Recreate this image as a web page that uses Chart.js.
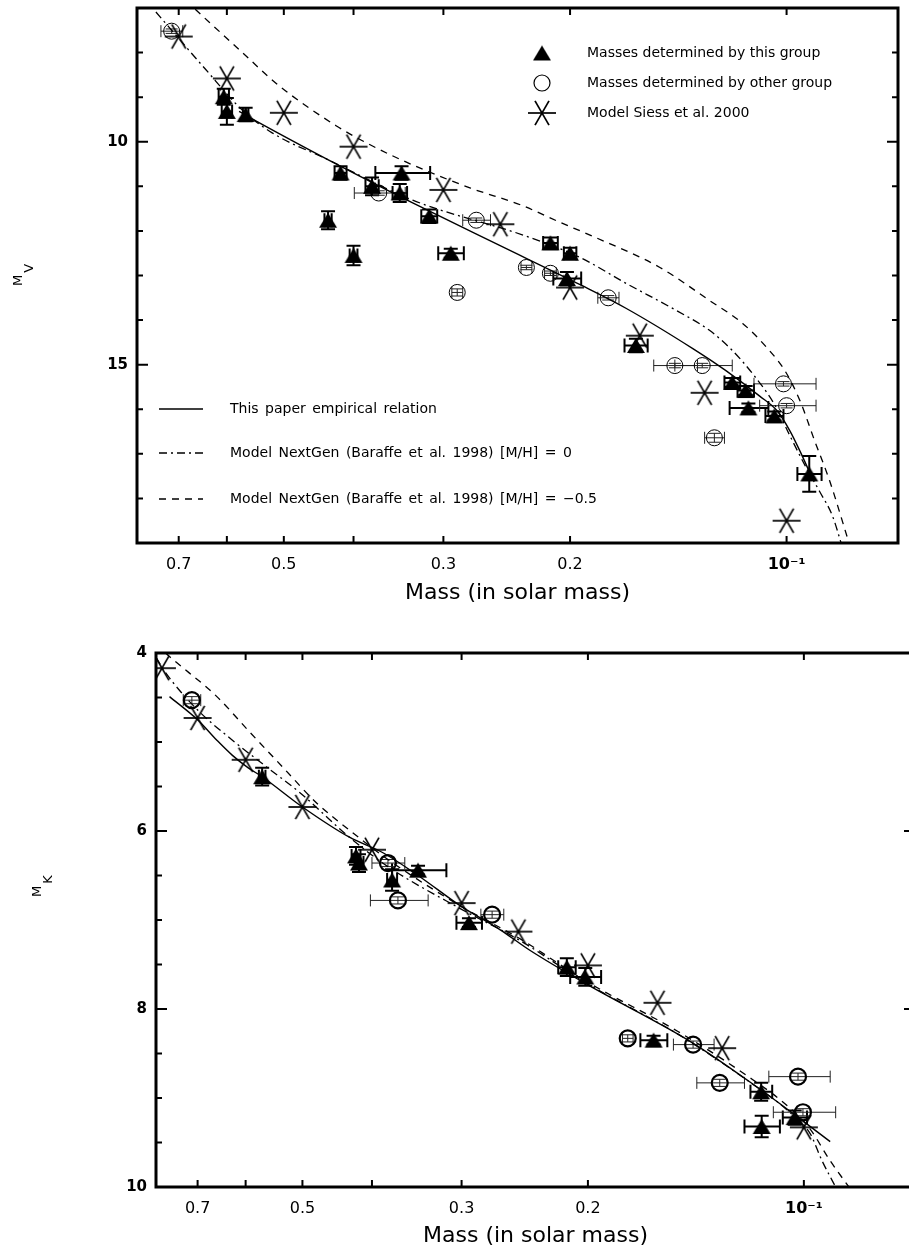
<!DOCTYPE html>
<html>
<head>
<meta charset="utf-8">
<title>Mass - luminosity relation</title>
<script src="https://cdn.jsdelivr.net/npm/chart.js@4.4.1/dist/chart.umd.min.js"></script>
<style>
  html, body { margin: 0; padding: 0; background: #fff; overflow: hidden; }
  canvas { position: absolute; left: 0; }
  #chartV { top: 0; }
  #chartK { top: 610px; }
</style>
</head>
<body>
<canvas id="chartV" width="909" height="610"></canvas>
<canvas id="chartK" width="926" height="643"></canvas>
<script>
// mass axis, shared by both panels
const massTicks = [0.7, 0.6, 0.5, 0.4, 0.3, 0.2, 0.1];
const massTickLabels = ['0.7', '', '0.5', '', '0.3', '0.2', '10⁻¹'];

// ---------- top panel : M_V ----------
const vTickLabels = [10, 15];
const vMinorTicks = [7, 8, 9, 11, 12, 13, 14, 16, 17, 18];

// masses determined by this group
const vThisMass    = [0.606, 0.600, 0.565, 0.417, 0.377, 0.343, 0.345, 0.314, 0.434, 0.400, 0.293, 0.213, 0.200, 0.202, 0.162, 0.119, 0.114, 0.113, 0.104, 0.093];
const vThisMag     = [8.99, 9.32, 9.39, 10.70, 11.00, 10.70, 11.15, 11.67, 11.76, 12.55, 12.50, 12.27, 12.50, 13.07, 14.57, 15.40, 15.58, 15.97, 16.15, 17.45];
const vThisMassErr = [0.010, 0.010, 0.005, 0.008, 0.008, 0.030, 0.008, 0.008, 0.005, 0.005, 0.012, 0.005, 0.004, 0.009, 0.006, 0.003, 0.003, 0.007, 0.003, 0.0036];
const vThisMagErr  = [0.18, 0.30, 0.15, 0.15, 0.20, 0.15, 0.20, 0.15, 0.20, 0.22, 0.10, 0.12, 0.12, 0.15, 0.15, 0.10, 0.10, 0.10, 0.10, 0.40];

// masses determined by other groups
const vOtherMass    = [0.716, 0.369, 0.270, 0.287, 0.230, 0.213, 0.177, 0.143, 0.131, 0.126, 0.101, 0.100];
const vOtherMag     = [7.52, 11.15, 11.76, 13.38, 12.82, 12.95, 13.50, 15.02, 15.02, 16.64, 15.43, 15.92];
const vOtherMassErr = [0.025, 0.030, 0.012, 0.005, 0.004, 0.004, 0.006, 0.010, 0.012, 0.004, 0.010, 0.009];
const vOtherMagErr  = [0.05, 0.05, 0.05, 0.08, 0.05, 0.05, 0.05, 0.05, 0.05, 0.10, 0.05, 0.05];

// Siess et al. 2000 models
const vSiessMass = [0.70, 0.60, 0.50, 0.40, 0.30, 0.25, 0.20, 0.16, 0.13, 0.10];
const vSiessMag  = [7.64, 8.58, 9.35, 10.11, 11.08, 11.85, 13.27, 14.35, 15.63, 18.50];

// curves
const vEmpMass = [0.577, 0.547, 0.433, 0.331, 0.251, 0.194, 0.167, 0.135, 0.1213, 0.1091, 0.103, 0.0989, 0.0958, 0.0928];
const vEmpMag  = [9.32, 9.53, 10.41, 11.37, 12.32, 13.20, 13.74, 14.64, 15.14, 15.70, 16.04, 16.49, 16.94, 17.43];
const vNg0Mass = [0.753, 0.642, 0.572, 0.519, 0.433, 0.331, 0.228, 0.194, 0.167, 0.1425, 0.128, 0.119, 0.1109, 0.1037, 0.0989, 0.0942, 0.0900, 0.0863, 0.0838];
const vNg0Mag  = [7.09, 8.38, 9.28, 9.80, 10.41, 11.31, 12.14, 12.59, 13.18, 13.78, 14.23, 14.68, 15.25, 15.92, 16.60, 17.27, 17.84, 18.40, 19.05];
const vNg5Mass = [0.664, 0.577, 0.508, 0.423, 0.377, 0.331, 0.275, 0.234, 0.207, 0.186, 0.150, 0.128, 0.115, 0.1065, 0.1005, 0.0958, 0.0914, 0.0871, 0.0817];
const vNg5Mag  = [7.03, 7.93, 8.74, 9.64, 10.09, 10.52, 11.04, 11.42, 11.80, 12.12, 12.82, 13.56, 14.08, 14.62, 15.14, 15.81, 16.71, 17.61, 19.05];

// ---------- bottom panel : M_K ----------
const kTickLabels = [4, 6, 8, 10];
const kMinorTicks = [4.5, 5, 5.5, 6.5, 7, 7.5, 8.5, 9, 9.5];

const kThisMass    = [0.569, 0.421, 0.417, 0.345, 0.375, 0.293, 0.214, 0.2017, 0.162, 0.1147, 0.103, 0.1145];
const kThisMag     = [5.39, 6.28, 6.36, 6.44, 6.55, 7.03, 7.53, 7.64, 8.35, 8.93, 9.22, 9.32];
const kThisMassErr = [0.006, 0.006, 0.006, 0.030, 0.006, 0.012, 0.006, 0.010, 0.007, 0.004, 0.004, 0.0065];
const kThisMagErr  = [0.10, 0.10, 0.10, 0.05, 0.12, 0.05, 0.10, 0.10, 0.05, 0.10, 0.08, 0.12];

const kOtherMass    = [0.713, 0.380, 0.368, 0.272, 0.176, 0.1427, 0.131, 0.1019, 0.1003];
const kOtherMag     = [4.53, 6.36, 6.78, 6.94, 8.33, 8.40, 8.83, 8.76, 9.16];
const kOtherMassErr = [0.020, 0.020, 0.034, 0.010, 0.003, 0.0093, 0.010, 0.010, 0.010];
const kOtherMagErr  = [0.04, 0.04, 0.04, 0.04, 0.04, 0.04, 0.04, 0.04, 0.04];

const kSiessMass = [0.785, 0.70, 0.60, 0.50, 0.40, 0.30, 0.25, 0.20, 0.16, 0.13, 0.10];
const kSiessMag  = [4.17, 4.73, 5.20, 5.73, 6.21, 6.81, 7.13, 7.51, 7.93, 8.44, 9.33];

const kEmpMass = [0.766, 0.70, 0.658, 0.626, 0.595, 0.569, 0.50, 0.43, 0.385, 0.345, 0.30, 0.265, 0.241, 0.20, 0.143, 0.1147, 0.1037, 0.0919];
const kEmpMag  = [4.49, 4.75, 4.98, 5.15, 5.29, 5.39, 5.73, 6.07, 6.25, 6.50, 6.85, 7.11, 7.34, 7.73, 8.38, 8.91, 9.17, 9.49];
const kNg0Mass = [0.80, 0.776, 0.70, 0.626, 0.561, 0.504, 0.43, 0.38, 0.30, 0.25, 0.20, 0.15, 0.12, 0.105, 0.098, 0.0944, 0.0899];
const kNg0Mag  = [4.05, 4.22, 4.64, 4.98, 5.28, 5.57, 6.07, 6.40, 6.88, 7.22, 7.72, 8.28, 8.80, 9.15, 9.40, 9.70, 10.03];
const kNg5Mass = [0.80, 0.766, 0.658, 0.595, 0.533, 0.477, 0.43, 0.38, 0.30, 0.25, 0.20, 0.15, 0.12, 0.105, 0.098, 0.092, 0.086];
const kNg5Mag  = [3.90, 4.04, 4.49, 4.87, 5.28, 5.69, 5.99, 6.32, 6.85, 7.20, 7.70, 8.25, 8.75, 9.10, 9.35, 9.70, 10.03];

Chart.defaults.font.family = "'DejaVu Sans', sans-serif";
Chart.defaults.color = '#000';

const pts = (xs, ys) => xs.map((m, i) => ({ x: m, y: ys[i] }));

// marker glyphs
function triangleImg(w, h) {
    const c = document.createElement('canvas');
    c.width = w + 2; c.height = h + 2;
    const g = c.getContext('2d');
    g.fillStyle = '#000';
    g.beginPath();
    g.moveTo(c.width / 2, 1);
    g.lineTo(w + 1, h + 1);
    g.lineTo(1, h + 1);
    g.closePath();
    g.fill();
    return c;
}
function asteriskImg(r, lw) {
    const s = 2 * r + 4;
    const c = document.createElement('canvas');
    c.width = s; c.height = s;
    const g = c.getContext('2d');
    g.strokeStyle = '#000';
    g.lineWidth = lw;
    g.translate(s / 2, s / 2);
    [0, 60, 120].forEach(a => {
        const t = a * Math.PI / 180;
        g.beginPath();
        g.moveTo(-r * Math.cos(t), -r * Math.sin(t));
        g.lineTo(r * Math.cos(t), r * Math.sin(t));
        g.stroke();
    });
    return c;
}
const triMark = triangleImg(18, 15);
const starMark = asteriskImg(14, 1.7);

// error bars, drawn through the scales
const errorBars = {
    id: 'errorBars',
    beforeDatasetsDraw(chart) {
        const { ctx, chartArea: a, scales: { x, y } } = chart;
        ctx.save();
        ctx.beginPath();
        ctx.rect(a.left, a.top, a.right - a.left, a.bottom - a.top);
        ctx.clip();
        chart.data.datasets.forEach(ds => {
            if (!ds.errX && !ds.errY) return;
            ctx.strokeStyle = ds.errColor || '#000';
            ctx.lineWidth = ds.errWidth || 1;
            const cap = ds.errCap || 6;
            ds.data.forEach((p, j) => {
                const px = x.getPixelForValue(p.x);
                const py = y.getPixelForValue(p.y);
                ctx.beginPath();
                if (ds.errX && ds.errX[j]) {
                    const x1 = x.getPixelForValue(p.x + ds.errX[j]);
                    const x2 = x.getPixelForValue(p.x - ds.errX[j]);
                    ctx.moveTo(x1, py); ctx.lineTo(x2, py);
                    ctx.moveTo(x1, py - cap); ctx.lineTo(x1, py + cap);
                    ctx.moveTo(x2, py - cap); ctx.lineTo(x2, py + cap);
                }
                if (ds.errY && ds.errY[j]) {
                    const y1 = y.getPixelForValue(p.y - ds.errY[j]);
                    const y2 = y.getPixelForValue(p.y + ds.errY[j]);
                    ctx.moveTo(px, y1); ctx.lineTo(px, y2);
                    ctx.moveTo(px - cap, y1); ctx.lineTo(px + cap, y1);
                    ctx.moveTo(px - cap, y2); ctx.lineTo(px + cap, y2);
                }
                ctx.stroke();
            });
        });
        ctx.restore();
    }
};

// box with inward ticks on all four sides
const frameTicks = {
    id: 'frameTicks',
    afterDraw(chart, args, o) {
        const { ctx, chartArea: a, scales: { x, y } } = chart;
        ctx.save();
        ctx.strokeStyle = '#000';
        ctx.lineWidth = 2;
        ctx.beginPath();
        massTicks.forEach(v => {
            const px = x.getPixelForValue(v);
            ctx.moveTo(px, a.bottom); ctx.lineTo(px, a.bottom - 7);
            ctx.moveTo(px, a.top); ctx.lineTo(px, a.top + 7);
        });
        o.major.forEach(v => {
            const py = y.getPixelForValue(v);
            ctx.moveTo(a.left, py); ctx.lineTo(a.left + 11, py);
            ctx.moveTo(a.right, py); ctx.lineTo(a.right - 11, py);
        });
        o.minor.forEach(v => {
            const py = y.getPixelForValue(v);
            ctx.moveTo(a.left, py); ctx.lineTo(a.left + 6, py);
            ctx.moveTo(a.right, py); ctx.lineTo(a.right - 6, py);
        });
        ctx.stroke();
        ctx.lineWidth = 3;
        ctx.strokeRect(a.left, a.top, a.right - a.left, a.bottom - a.top);

        // y axis title with subscript, rotated
        ctx.fillStyle = '#000';
        ctx.translate(o.title.x, o.title.y);
        ctx.rotate(-Math.PI / 2);
        ctx.textAlign = 'left';
        ctx.textBaseline = 'alphabetic';
        ctx.font = "13px 'DejaVu Sans'";
        const w = ctx.measureText('M').width;
        ctx.fillText('M', 0, 0);
        ctx.fillText(o.title.sub, w + 2, 11);
        ctx.restore();
    }
};

// legend placed inside the plot, labels taken from the datasets
const insideLegend = {
    id: 'insideLegend',
    afterDraw(chart, args, o) {
        if (!o.points) return;
        const ctx = chart.ctx;
        const sets = chart.data.datasets;
        ctx.save();
        ctx.fillStyle = '#000';
        ctx.strokeStyle = '#000';
        ctx.font = "14px 'DejaVu Sans'";
        ctx.textBaseline = 'middle';
        o.points.forEach(p => {
            const ds = sets[p.ds];
            const st = ds.pointStyle;
            if (st instanceof HTMLCanvasElement) {
                ctx.drawImage(st, p.x - st.width / 2, p.y - st.height / 2);
            } else {
                ctx.lineWidth = 1.2;
                ctx.beginPath();
                ctx.arc(p.x, p.y, ds.pointRadius, 0, Math.PI * 2);
                ctx.stroke();
            }
            ctx.fillText(ds.label, o.textX, p.y);
        });
        ctx.wordSpacing = '2px';
        o.lines.forEach(l => {
            const ds = sets[l.ds];
            ctx.lineWidth = ds.borderWidth;
            ctx.setLineDash(ds.borderDash || []);
            ctx.beginPath();
            ctx.moveTo(o.lineX0, l.y); ctx.lineTo(o.lineX1, l.y);
            ctx.stroke();
            ctx.setLineDash([]);
            ctx.fillText(ds.label, o.lineTextX, l.y);
        });
        ctx.restore();
    }
};

function makeSets(d) {
    return [
        { label: 'Masses determined by this group', data: pts(d.thisMass, d.thisMag),
          errX: d.thisMassErr, errY: d.thisMagErr, errWidth: 2, errCap: 7,
          pointStyle: triMark, pointRadius: 8 },
        { label: 'Masses determined by other group', data: pts(d.otherMass, d.otherMag),
          errX: d.otherMassErr, errY: d.otherMagErr, errWidth: 1, errCap: 6, errColor: '#222',
          pointStyle: 'circle', pointRadius: 8, borderColor: '#000', borderWidth: d.circleWidth,
          backgroundColor: 'rgba(0,0,0,0)' },
        { label: 'Model Siess et al. 2000', data: pts(d.siessMass, d.siessMag),
          pointStyle: starMark, pointRadius: 14 },
        { label: 'This paper empirical relation', data: pts(d.empMass, d.empMag), showLine: true,
          pointRadius: 0, borderColor: '#000', borderWidth: 1.4, cubicInterpolationMode: 'monotone' },
        { label: 'Model NextGen (Baraffe et al. 1998) [M/H] = 0', data: pts(d.ng0Mass, d.ng0Mag), showLine: true,
          pointRadius: 0, borderColor: '#000', borderWidth: 1.3, borderDash: [8, 4, 2, 4], cubicInterpolationMode: 'monotone' },
        { label: 'Model NextGen (Baraffe et al. 1998) [M/H] = −0.5', data: pts(d.ng5Mass, d.ng5Mag), showLine: true,
          pointRadius: 0, borderColor: '#000', borderWidth: 1.3, borderDash: [7, 6], cubicInterpolationMode: 'monotone' }
    ];
}

function buildChart(id, c) {
    return new Chart(document.getElementById(id), {
        type: 'scatter',
        data: { datasets: c.datasets },
        options: {
            responsive: false,
            animation: false,
            layout: { autoPadding: false, padding: { top: c.padTop, right: c.padRight, left: 0, bottom: 0 } },
            plugins: {
                legend: { display: false },
                tooltip: { enabled: false },
                frameTicks: { major: c.yLabels, minor: c.yMinor, title: c.yTitle },
                insideLegend: c.legend || {}
            },
            scales: {
                x: {
                    type: 'logarithmic', reverse: true, min: 0.07, max: 0.8,
                    grid: { display: false, drawTicks: false }, border: { display: false },
                    afterBuildTicks: s => { s.ticks = massTicks.map(v => ({ value: v })); },
                    afterFit: s => { s.height = c.xHeight; s.paddingLeft = 0; s.paddingRight = 0; },
                    ticks: {
                        autoSkip: false, maxRotation: 0, padding: 12,
                        callback: (v, i) => massTickLabels[i],
                        font: t => ({ size: 16, weight: t.index === massTicks.length - 1 ? 'bold' : 'normal' })
                    },
                    title: { display: true, text: 'Mass (in solar mass)', font: { size: 22 }, padding: { top: 0, bottom: 4 } }
                },
                y: {
                    type: 'linear', reverse: true, min: c.yMin, max: c.yMax,
                    grid: { display: false, drawTicks: false }, border: { display: false },
                    afterBuildTicks: s => { s.ticks = c.yLabels.map(v => ({ value: v })); },
                    afterFit: s => { s.width = c.yWidth; s.paddingTop = 0; s.paddingBottom = 0; },
                    ticks: { padding: 9, font: { size: 15, weight: 'bold' }, callback: v => String(v) }
                }
            }
        },
        plugins: [errorBars, frameTicks, insideLegend]
    });
}

buildChart('chartV', {
    datasets: makeSets({
        thisMass: vThisMass, thisMag: vThisMag, thisMassErr: vThisMassErr, thisMagErr: vThisMagErr,
        otherMass: vOtherMass, otherMag: vOtherMag, otherMassErr: vOtherMassErr, otherMagErr: vOtherMagErr,
        siessMass: vSiessMass, siessMag: vSiessMag, circleWidth: 1,
        empMass: vEmpMass, empMag: vEmpMag, ng0Mass: vNg0Mass, ng0Mag: vNg0Mag, ng5Mass: vNg5Mass, ng5Mag: vNg5Mag
    }),
    padTop: 8, padRight: 11, xHeight: 67, yWidth: 137,
    yMin: 7, yMax: 19, yLabels: vTickLabels, yMinor: vMinorTicks,
    yTitle: { x: 22, y: 286, sub: 'V' },
    legend: {
        points: [{ ds: 0, x: 542, y: 53 }, { ds: 1, x: 542, y: 83 }, { ds: 2, x: 542, y: 113 }],
        textX: 587,
        lines: [{ ds: 3, y: 409 }, { ds: 4, y: 453 }, { ds: 5, y: 499 }],
        lineX0: 159, lineX1: 203, lineTextX: 230
    }
});

buildChart('chartK', {
    datasets: makeSets({
        thisMass: kThisMass, thisMag: kThisMag, thisMassErr: kThisMassErr, thisMagErr: kThisMagErr,
        otherMass: kOtherMass, otherMag: kOtherMag, otherMassErr: kOtherMassErr, otherMagErr: kOtherMagErr,
        siessMass: kSiessMass, siessMag: kSiessMag, circleWidth: 2.2,
        empMass: kEmpMass, empMag: kEmpMag, ng0Mass: kNg0Mass, ng0Mag: kNg0Mag, ng5Mass: kNg5Mass, ng5Mag: kNg5Mag
    }),
    padTop: 43, padRight: 11, xHeight: 66, yWidth: 156,
    yMin: 4, yMax: 10, yLabels: kTickLabels, yMinor: kMinorTicks,
    yTitle: { x: 41, y: 287, sub: 'K' }
});
</script>
</body>
</html>
